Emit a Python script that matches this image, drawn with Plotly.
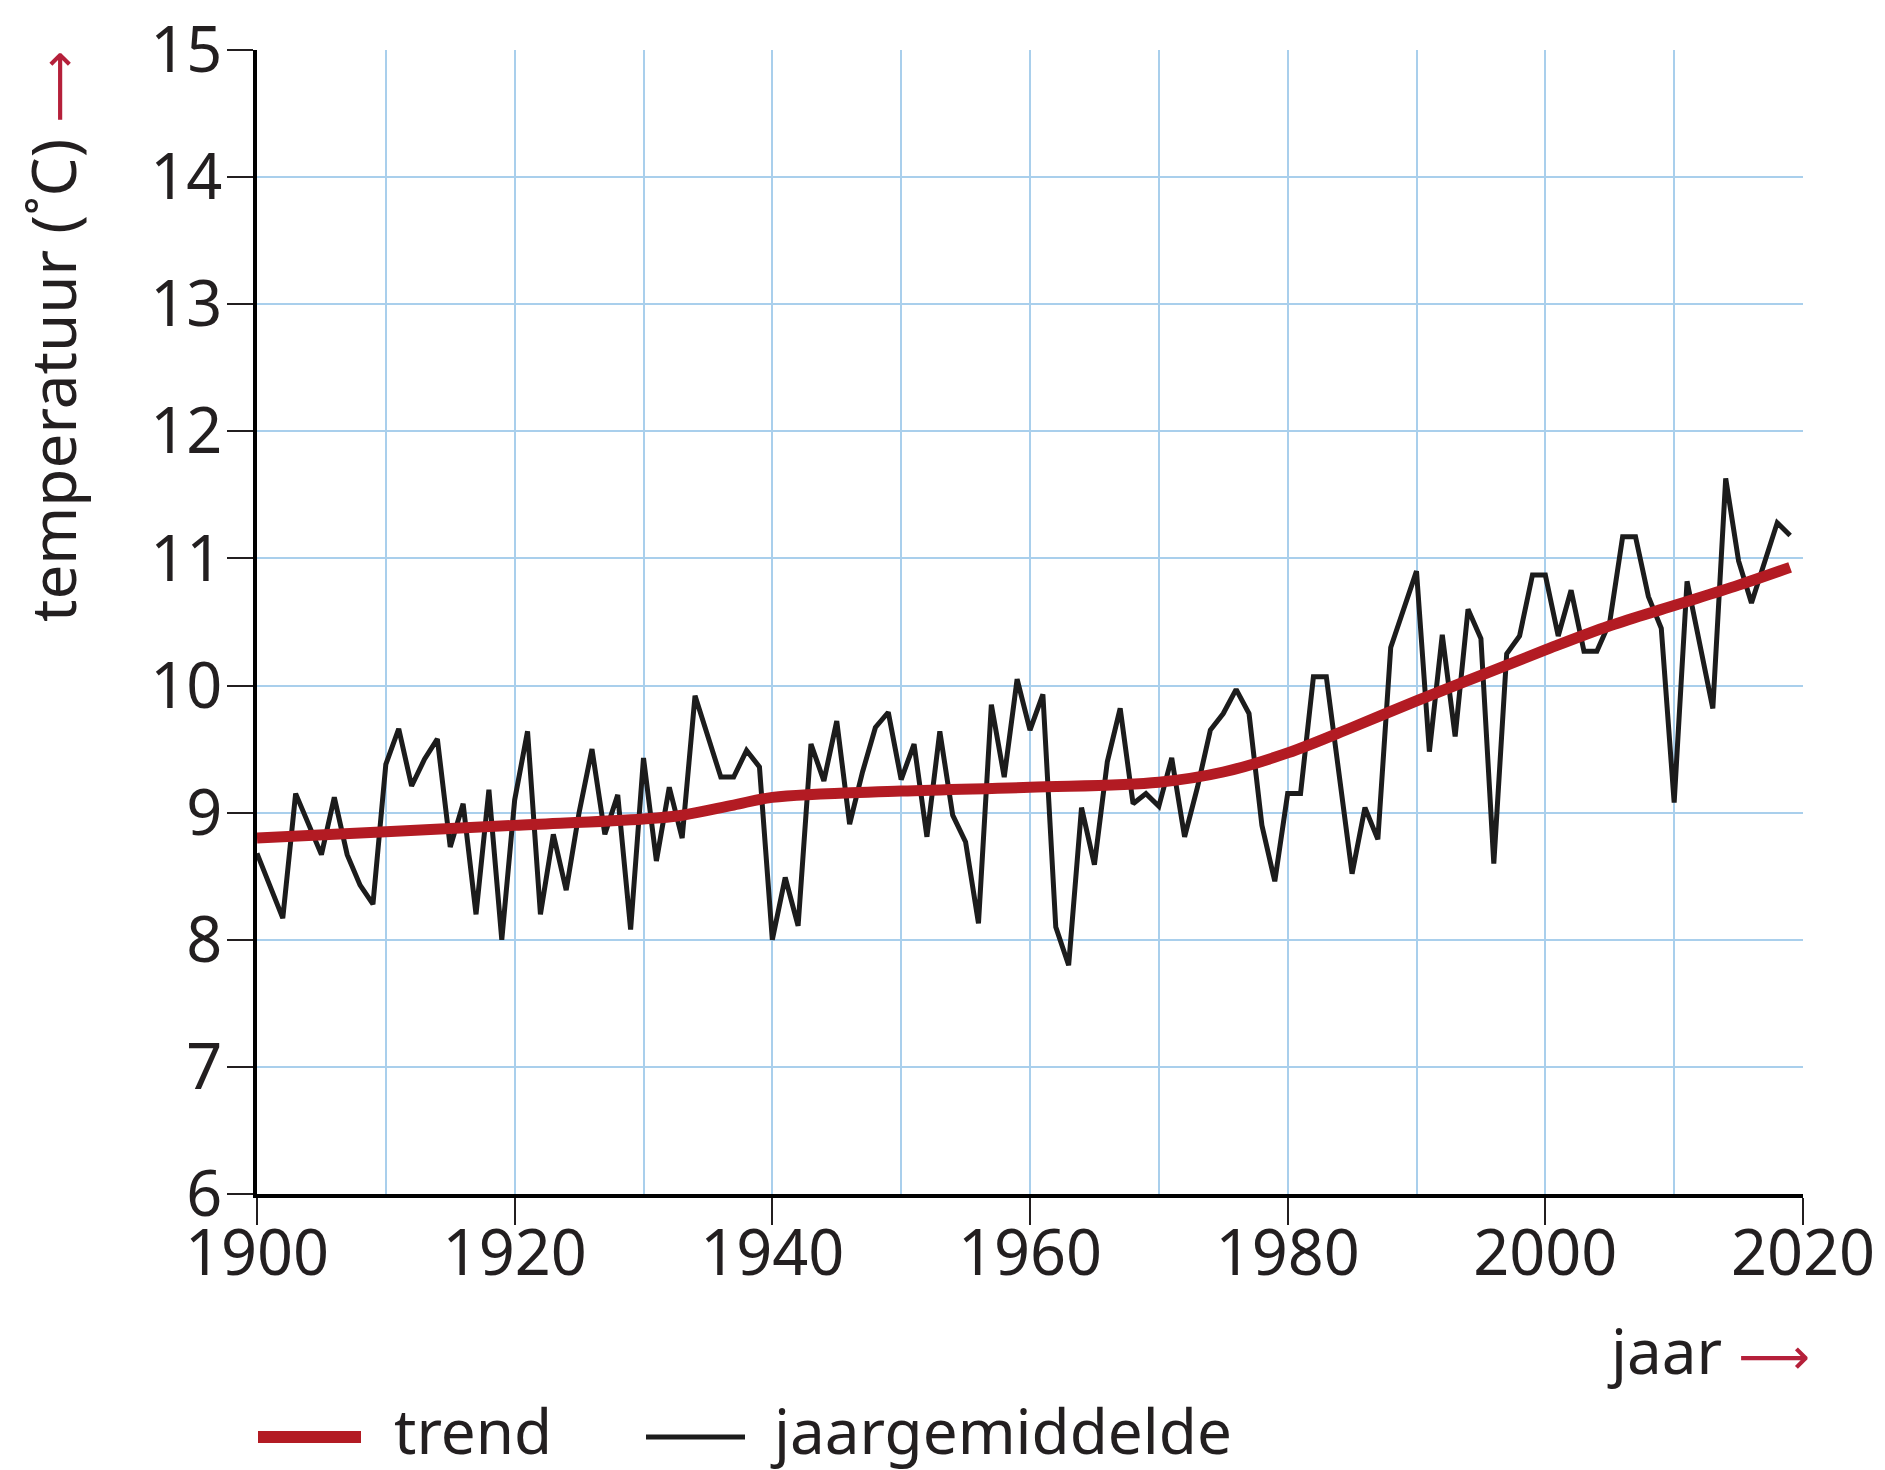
import plotly.graph_objects as go

years = list(range(1900, 2020))
jaargemiddelde = [
    8.68, 8.42, 8.17, 9.15, 8.90, 8.67, 9.12, 8.67, 8.43, 8.28,
    9.38, 9.66, 9.21, 9.42, 9.58, 8.73, 9.07, 8.20, 9.18, 8.00,
    9.10, 9.64, 8.20, 8.83, 8.39, 9.00, 9.50, 8.83, 9.14, 8.08,
    9.43, 8.62, 9.20, 8.80, 9.92, 9.60, 9.28, 9.28, 9.49, 9.36,
    8.00, 8.49, 8.11, 9.54, 9.25, 9.72, 8.91, 9.32, 9.67, 9.79,
    9.26, 9.54, 8.81, 9.64, 8.98, 8.77, 8.13, 9.85, 9.28, 10.05,
    9.65, 9.93, 8.10, 7.80, 9.04, 8.59, 9.40, 9.82, 9.07, 9.15,
    9.05, 9.43, 8.81, 9.20, 9.65, 9.78, 9.97, 9.78, 8.90, 8.46,
    9.15, 9.15, 10.07, 10.07, 9.32, 8.52, 9.04, 8.79, 10.30, 10.60,
    10.90, 9.48, 10.40, 9.60, 10.60, 10.37, 8.60, 10.25, 10.39, 10.87,
    10.87, 10.39, 10.75, 10.27, 10.27, 10.50, 11.17, 11.17, 10.70, 10.45,
    9.08, 10.82, 10.30, 9.82, 11.63, 10.98, 10.65, 10.96, 11.28, 11.18,
]

trend_years = [1900, 1910, 1920, 1930, 1933, 1937, 1940, 1950, 1960, 1970,
               1975, 1980, 1985, 1990, 1995, 2000, 2005, 2010, 2015, 2019]
trend_values = [8.80, 8.85, 8.90, 8.95, 8.98, 9.06, 9.12, 9.17, 9.20, 9.24,
                9.32, 9.47, 9.67, 9.88, 10.08, 10.28, 10.47, 10.63, 10.79, 10.93]

x_ticks = [1900, 1920, 1940, 1960, 1980, 2000, 2020]
y_ticks = [6, 7, 8, 9, 10, 11, 12, 13, 14, 15]

RED = "#b31b23"
ARROW = "#b5203a"
INK = "#231f20"
GRID = "#a9cfec"
FONT = "Noto Sans"

# the page body adds an 8px margin, so the figure is 8px smaller than the window
OFF = 8
W, H = 1885 - OFF, 1470 - OFF
L, T = 257 - OFF, 50 - OFF
R = W - (1803 - OFF)
B = H - (1194 - OFF)
pw, ph = W - L - R, H - T - B


def px_x(X):
    # page pixel -> paper coordinate
    return (X - OFF - L) / pw


def px_y(Y):
    return (H - B - (Y - OFF)) / ph


arrow = ("<span style=\"color:%s;font-family:'DejaVu Sans';font-size:50px\">⟶</span>"
         % ARROW)

fig = go.Figure()
fig.add_trace(go.Scatter(x=years, y=jaargemiddelde, mode="lines",
                         line=dict(color="#1c1c1c", width=5), name="jaargemiddelde"))
fig.add_trace(go.Scatter(x=trend_years, y=trend_values, mode="lines",
                         line=dict(color=RED, width=11, shape="spline"), name="trend"))

fig.update_layout(
    width=W, height=H,
    margin=dict(l=L, r=R, t=T, b=B),
    paper_bgcolor="white", plot_bgcolor="white",
    showlegend=False,
    font=dict(family=FONT, color=INK, size=63),
)
fig.update_xaxes(
    range=[1900, 2020], tickvals=x_ticks, ticks="outside", ticklen=27, tickwidth=2,
    tickcolor=INK, showline=True, linecolor="black", linewidth=4,
    showgrid=True, gridcolor=GRID, gridwidth=2, zeroline=False,
    minor=dict(dtick=10, tick0=1900, showgrid=True, gridcolor=GRID, gridwidth=2, ticks=""),
    tickfont=dict(size=63, family=FONT, color=INK),
    ticklabelstandoff=-26, ticklabeloverflow="allow", automargin=False,
)
fig.update_yaxes(
    range=[6, 15], tickvals=y_ticks, ticks="outside", ticklen=26, tickwidth=2,
    tickcolor=INK, showline=True, linecolor="black", linewidth=4,
    showgrid=True, gridcolor=GRID, gridwidth=2, zeroline=False,
    tickfont=dict(size=63, family=FONT, color=INK),
    ticklabelstandoff=-8, ticklabeloverflow="allow", automargin=False,
)

# axis titles
fig.add_annotation(
    xref="paper", yref="paper", x=px_x(52), y=px_y(337),
    text="temperatuur (˚C) " + arrow,
    textangle=-90, showarrow=False, xanchor="center", yanchor="middle",
    font=dict(size=62, family=FONT, color=INK),
)
fig.add_annotation(
    xref="paper", yref="paper", x=px_x(1812), y=px_y(1350),
    text="jaar " + arrow,
    showarrow=False, xanchor="right", yanchor="middle",
    font=dict(size=62, family=FONT, color=INK),
)

# legend
leg_y = px_y(1437)
txt_y = px_y(1430)
fig.add_shape(type="line", xref="paper", yref="paper", x0=px_x(258), x1=px_x(361),
              y0=leg_y, y1=leg_y, line=dict(color=RED, width=12))
fig.add_shape(type="line", xref="paper", yref="paper", x0=px_x(646), x1=px_x(745),
              y0=leg_y, y1=leg_y, line=dict(color="#1c1c1c", width=5))
fig.add_annotation(xref="paper", yref="paper", x=px_x(392), y=txt_y, text="trend",
                   showarrow=False, xanchor="left", yanchor="middle",
                   font=dict(size=62, family=FONT, color=INK))
fig.add_annotation(xref="paper", yref="paper", x=px_x(768), y=txt_y, text="jaargemiddelde",
                   showarrow=False, xanchor="left", yanchor="middle",
                   font=dict(size=62, family=FONT, color=INK))

fig.write_html("out.html")
